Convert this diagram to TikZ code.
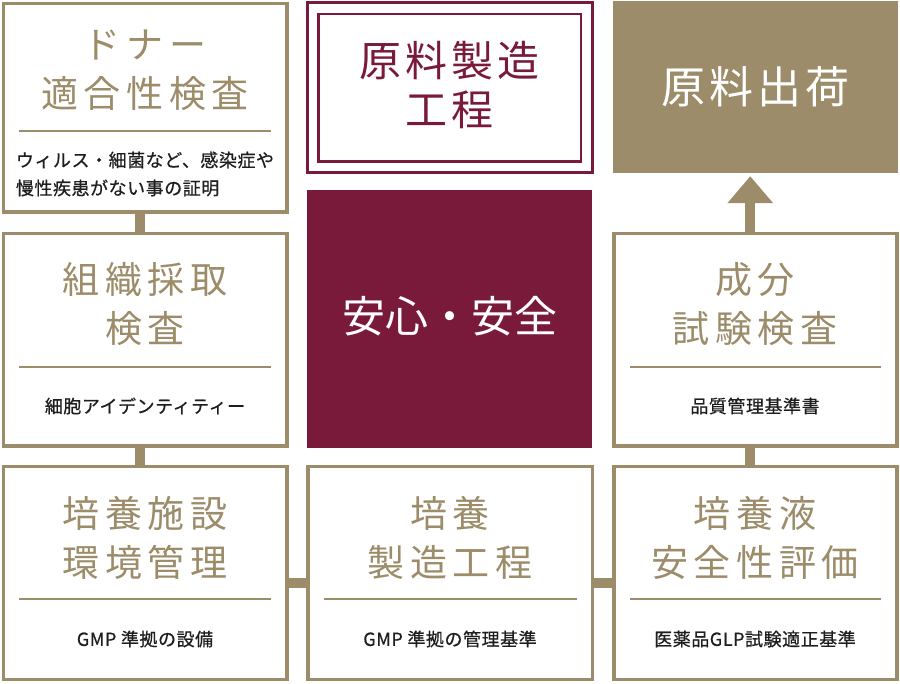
\documentclass[tikz,border=0pt]{standalone}
\usepackage{fontspec}
\usetikzlibrary{arrows.meta,calc}
\newfontfamily\jpT[LetterSpace=15]{Noto Sans CJK JP}
\newfontfamily\jpS[LetterSpace=3,FakeBold=0.6]{Noto Sans CJK JP}
\newfontfamily\jpM[LetterSpace=10]{Noto Sans CJK JP}
\newfontfamily\jpL[LetterSpace=9]{Noto Sans CJK JP}
\newfontfamily\jpA{Noto Sans CJK JP}
\definecolor{GD}{HTML}{9C8C69}
\definecolor{MR}{HTML}{7A1A3A}
\definecolor{TX}{HTML}{1E1E1E}
\tikzset{
    BX/.style ={rectangle, draw=GD, line width=3.5pt, inner sep=0pt, minimum height=212.5pt},
    FB/.style ={rectangle, inner sep=0pt},
    CN/.style ={draw=GD, line width=10pt},
    DV/.style ={draw=GD, line width=1.5pt},
    TT/.style ={text=GD, font=\jpT\fontsize{37}{49}\selectfont, align=center, inner sep=0pt},
    ST/.style ={text=TX, font=\jpS\fontsize{18}{28}\selectfont, align=left, inner sep=0pt}}
\begin{document}
\begin{tikzpicture}[x=1pt,y=-1pt]
        \fill[white] (0,0) rectangle (900,684);
        \useasboundingbox (0,0) rectangle (900,684);
        % boxes
        \node[BX,minimum width=283.5pt,minimum height=208.5pt] (dn) at (145,108) {};
        \node[BX,minimum width=283.5pt] (kt) at (145,340) {};
        \node[BX,minimum width=283.5pt] (bk) at (145,573) {};
        \node[BX,minimum width=284.5pt] (bs) at (450,573) {};
        \node[BX,minimum width=283pt] (bh) at (755.25,573) {};
        \node[BX,minimum width=283pt] (sb) at (755.25,340) {};
        \node[FB,fill=GD,minimum width=285pt,minimum height=172pt] (sh) at (755.25,87) {};
        \node[FB,fill=MR,minimum width=285pt,minimum height=258pt] (an) at (449.5,319) {};
        \node[FB,draw=MR,line width=2.7pt,minimum width=285.3pt,minimum height=170.3pt] (gs) at (450,87.5) {};
        \node[FB,draw=MR,line width=2.5pt,minimum width=262.5pt,minimum height=147.5pt] (gi) at (449.5,88) {};
        % connectors
        \draw[CN] ([xshift=-5pt]dn.south) -- ([xshift=-5pt]kt.north);
        \draw[CN] ([xshift=-5pt]kt.south) -- ([xshift=-5pt]bk.north);
        \draw[CN] ([yshift=-9.5pt]bk.east) -- ([yshift=-9.5pt]bs.west);
        \draw[CN] ([yshift=-9.5pt]bs.east) -- ([yshift=-9.5pt]bh.west);
        \draw[CN] ([xshift=-5pt]bh.north) -- ([xshift=-5pt]sb.south);
        \draw[CN,-{Triangle[width=44pt,length=27pt]}] ([xshift=-5pt]sb.north) -- ([xshift=-5pt,yshift=-3pt]sh.south);
        \foreach \b/\y in {dn/131,kt/367,sb/367,bk/599,bs/599,bh/599}{
            \draw[DV] ($(\b.west |- 0,\y)+(17.5,0)$) -- ($(\b.east |- 0,\y)+(-17.5,0)$);}
        % texts
        \node[TT] (t1) at (145,70.5) {ドナー\\適合性検査};
        \node[ST] (s1) at (145,174) {ウィルス・細菌など、感染症や\\慢性疾患がない事の証明};
        \node[TT] (t2) at (145,304) {組織採取\\検査};
        \node[ST] (s2) at (145,406) {細胞アイデンティティー};
        \node[TT] (t3) at (755,304) {成分\\試験検査};
        \node[ST] (s3) at (755,406) {品質管理基準書};
        \node[TT] (t4) at (145,538) {培養施設\\環境管理};
        \node[ST] (s4) at (145,639) {GMP 準拠の設備};
        \node[TT] (t5) at (450,538) {培養\\製造工程};
        \node[ST] (s5) at (450,639) {GMP 準拠の管理基準};
        \node[TT] (t6) at (755,538) {培養液\\安全性評価};
        \node[ST] (s6) at (755,639) {医薬品GLP試験適正基準};
        \node[text=MR,font=\jpM\fontsize{42}{49}\selectfont,align=center,inner sep=0pt] (t7) at (449.5,85.5) {原料製造\\工程};
        \node[text=white,font=\jpL\fontsize{44}{44}\selectfont,inner sep=0pt] (t8) at (755.25,87) {原料出荷};
        \node[text=white,font=\jpA\fontsize{43}{43}\selectfont,inner sep=0pt] (t9) at (449.5,316) {安心・安全};
    \end{tikzpicture}
\end{document}
